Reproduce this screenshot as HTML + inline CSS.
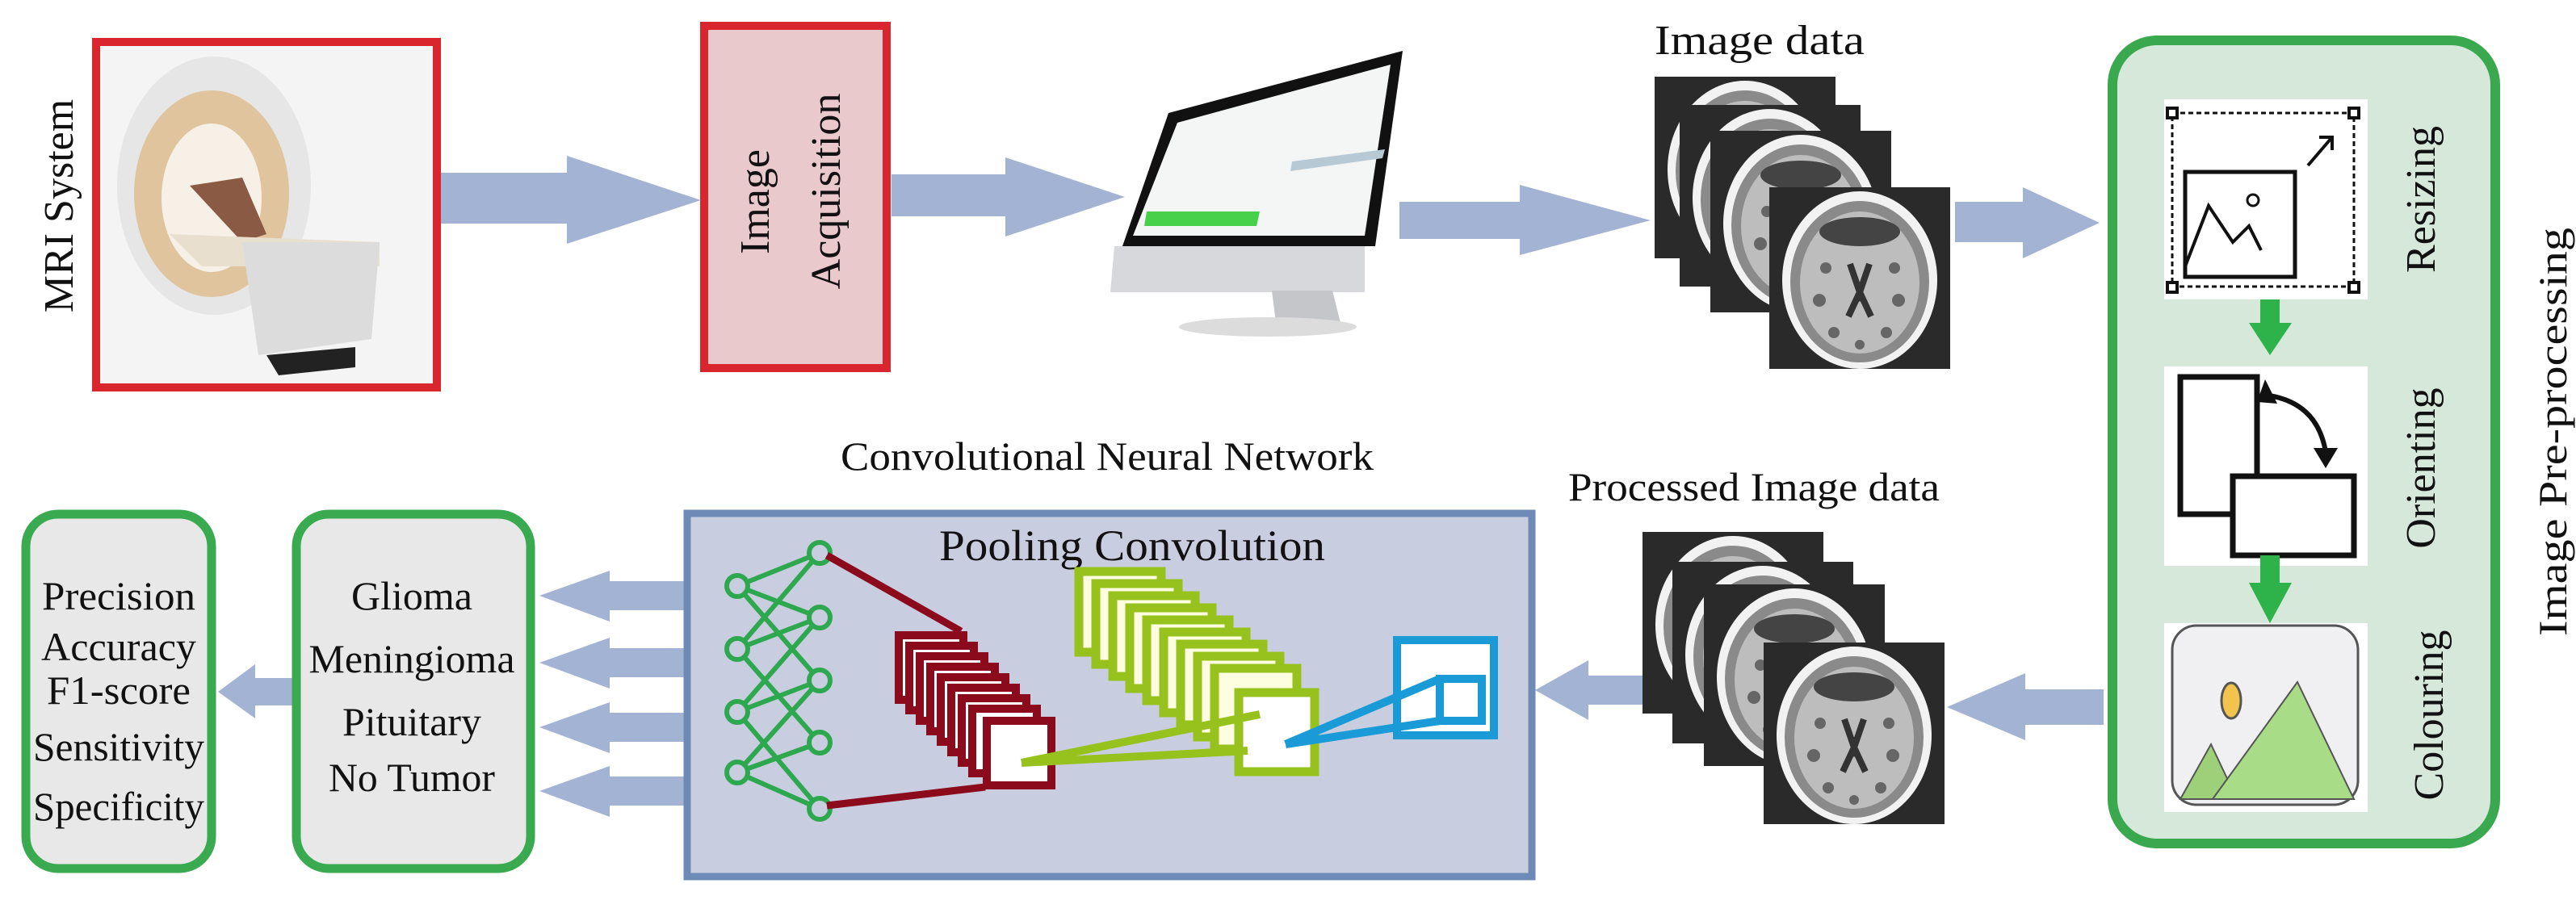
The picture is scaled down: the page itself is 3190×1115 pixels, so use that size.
<!DOCTYPE html>
<html><head><meta charset="utf-8"><style>html,body{margin:0;padding:0;background:#fff}svg{display:block}svg text{font-family:"Liberation Serif","Times New Roman",serif}</style></head>
<body>
<svg width="3190" height="1115" viewBox="0 0 3190 1115" xmlns="http://www.w3.org/2000/svg">
<defs>
<g id="brain">
  <rect x="0" y="0" width="224" height="225" fill="#2a2a2a"/>
  <ellipse cx="112" cy="115" rx="96" ry="110" fill="#f2f2f2"/>
  <ellipse cx="112" cy="117" rx="86" ry="100" fill="#8a8a8a"/>
  <ellipse cx="112" cy="118" rx="74" ry="88" fill="#bdbdbd"/>
  <ellipse cx="112" cy="55" rx="50" ry="18" fill="#444"/>
  <path d="M100 95 L112 130 L124 95 M112 130 L98 160 M112 130 L126 160" stroke="#333" stroke-width="8" fill="none"/>
  <g fill="#666"><circle cx="70" cy="100" r="7"/><circle cx="155" cy="100" r="7"/><circle cx="62" cy="140" r="8"/><circle cx="160" cy="140" r="8"/><circle cx="80" cy="180" r="7"/><circle cx="145" cy="180" r="7"/><circle cx="112" cy="195" r="6"/></g>
</g>
</defs>

<!-- MRI box -->
<rect x="119" y="52" width="422" height="428" fill="#f4f4f4" stroke="#d9262e" stroke-width="10"/>
<ellipse cx="265" cy="230" rx="120" ry="160" fill="#e6e6e6"/>
<ellipse cx="262" cy="240" rx="96" ry="128" fill="#e0c49e"/>
<ellipse cx="262" cy="245" rx="62" ry="92" fill="#f6f0e6"/>
<path d="M235 230 L300 220 L330 290 L300 300 Z" fill="#8a5a44"/>
<path d="M210 290 L470 300 L470 330 L250 330 Z" fill="#e8dfcf"/>
<path d="M300 300 L470 300 L460 420 L320 440 Z" fill="#dcdcdc"/>
<path d="M330 440 L440 430 L440 455 L345 465 Z" fill="#222"/>
<text transform="translate(90,255) rotate(-90)" font-size="52" text-anchor="middle" fill="#111">MRI System</text>

<!-- Image Acquisition -->
<rect x="872" y="32" width="226" height="424" fill="#e9c9cb" stroke="#d9262e" stroke-width="10"/>
<text transform="translate(952,250) rotate(-90)" font-size="52" text-anchor="middle" fill="#111">Image</text>
<text transform="translate(1040,237) rotate(-90)" font-size="52" text-anchor="middle" fill="#111">Acquisition</text>

<!-- blue arrows -->
<g fill="#a3b3d4">
<polygon points="546,214 702,214 702,193 868,248 702,302 702,277 546,277"/>
<polygon points="1104,216 1245,216 1245,195 1393,244 1245,293 1245,268 1104,268"/>
<polygon points="1733,250 1882,250 1882,229 2044,273 1882,316 1882,296 1733,296"/>
<polygon points="2421,250 2505,250 2505,232 2600,276 2505,320 2505,300 2421,300"/>
<polygon points="2605,854 2508,854 2508,834 2411,876 2508,917 2508,898 2605,898"/>
<polygon points="2034,837 1967,837 1967,818 1901,855 1967,892 1967,873 2034,873"/>
<polygon points="847,720 755,720 755,707 668,738 755,770 755,756 847,756"/>
<polygon points="847,803 755,803 755,790 668,821 755,853 755,839 847,839"/>
<polygon points="847,883 755,883 755,870 668,901 755,933 755,919 847,919"/>
<polygon points="847,962 755,962 755,949 668,980 755,1012 755,998 847,998"/>
<polygon points="362,840 316,840 316,823 270,857 316,890 316,874 362,874"/>
</g>

<!-- Monitor -->
<polygon points="1380,305 1690,305 1690,362 1375,362" fill="#d6d8dc"/>
<polygon points="1575,360 1650,360 1660,400 1580,400" fill="#c4c6ca"/>
<ellipse cx="1570" cy="405" rx="110" ry="12" fill="#dcdcdc"/>
<polygon points="1447,140 1737,63 1703,305 1390,305" fill="#111"/>
<polygon points="1458,152 1722,80 1690,292 1403,292" fill="#f4f6f6"/>
<polygon points="1420,262 1560,262 1556,280 1417,280" fill="#47d04a"/>
<polygon points="1600,200 1715,185 1712,196 1598,212" fill="#b8c9d6"/>

<!-- Image data -->
<text x="2049" y="67" font-size="52" textLength="260" lengthAdjust="spacingAndGlyphs" fill="#111">Image data</text>
<use href="#brain" transform="translate(2049,95)"/>
<use href="#brain" transform="translate(2080,130)"/>
<use href="#brain" transform="translate(2118,162)"/>
<use href="#brain" transform="translate(2191,232)"/>

<!-- Pre-processing panel -->
<rect x="2616" y="50" width="474" height="995" rx="55" fill="#d5e8da" stroke="#39a84f" stroke-width="12"/>
<rect x="2680" y="123" width="252" height="248" fill="#fff"/>
<rect x="2690" y="140" width="225" height="215" fill="none" stroke="#111" stroke-width="3" stroke-dasharray="6,4"/>
<g fill="#fff" stroke="#111" stroke-width="4"><rect x="2684" y="134" width="12" height="12"/><rect x="2909" y="134" width="12" height="12"/><rect x="2684" y="350" width="12" height="12"/><rect x="2909" y="350" width="12" height="12"/></g>
<rect x="2706" y="213" width="136" height="130" fill="none" stroke="#111" stroke-width="5"/>
<polyline points="2706,330 2735,255 2765,300 2785,280 2800,310" fill="none" stroke="#111" stroke-width="4"/>
<circle cx="2790" cy="248" r="7" fill="none" stroke="#111" stroke-width="3"/>
<path d="M2858 205 L2888 170 M2872 170 L2888 170 L2888 186" stroke="#111" stroke-width="4" fill="none"/>
<text transform="translate(3015,247) rotate(-90)" font-size="52" text-anchor="middle" fill="#111">Resizing</text>

<rect x="2680" y="454" width="252" height="247" fill="#fff"/>
<rect x="2700" y="467" width="95" height="170" fill="none" stroke="#111" stroke-width="7"/>
<rect x="2765" y="590" width="150" height="98" fill="#fff" stroke="#111" stroke-width="7"/>
<path d="M2810 490 Q2870 500 2880 560" stroke="#111" stroke-width="6" fill="none"/>
<polygon points="2865,555 2895,555 2880,580" fill="#111"/>
<polygon points="2805,470 2820,500 2795,498" fill="#111"/>
<text transform="translate(3015,580) rotate(-90)" font-size="52" text-anchor="middle" fill="#111">Orienting</text>

<rect x="2680" y="772" width="252" height="234" fill="#fff"/>
<rect x="2690" y="775" width="230" height="222" rx="30" fill="#f0f0f3" stroke="#555" stroke-width="3"/>
<ellipse cx="2763" cy="868" rx="12" ry="22" fill="#f2c44e" stroke="#555" stroke-width="3"/>
<polygon points="2700,990 2738,922 2770,990" fill="#9ed07a" stroke="#555" stroke-width="2"/>
<polygon points="2740,990 2845,845 2915,990" fill="#a8dc86" stroke="#555" stroke-width="2"/>
<text transform="translate(3025,886) rotate(-90)" font-size="52" text-anchor="middle" fill="#111">Colouring</text>

<g fill="#2db34a">
<rect x="2799" y="371" width="24" height="35"/><polygon points="2785,400 2838,400 2811,440"/>
<rect x="2799" y="688" width="24" height="40"/><polygon points="2785,722 2838,722 2811,772"/>
</g>
<text transform="translate(3178,535) rotate(-90)" font-size="50" text-anchor="middle" textLength="506" lengthAdjust="spacingAndGlyphs" fill="#111">Image Pre-processing</text>

<!-- Processed image data -->
<text x="1942" y="620" font-size="50" textLength="460" lengthAdjust="spacingAndGlyphs" fill="#111">Processed Image data</text>
<use href="#brain" transform="translate(2034,659)"/>
<use href="#brain" transform="translate(2071,696)"/>
<use href="#brain" transform="translate(2110,724)"/>
<use href="#brain" transform="translate(2184,796)"/>

<!-- CNN -->
<text x="1041" y="582" font-size="50" textLength="660" lengthAdjust="spacingAndGlyphs" fill="#111">Convolutional Neural Network</text>
<rect x="851" y="636" width="1046" height="450" fill="#c9cde0" stroke="#6e8bb8" stroke-width="9"/>
<text x="1163" y="694" font-size="54" textLength="478" lengthAdjust="spacingAndGlyphs" fill="#111">Pooling Convolution</text>

<g stroke="#2ea84f" stroke-width="6" fill="none">
<path d="M913 726 L1015 685 M913 726 L1015 765 M913 726 L1015 843 M913 804 L1015 685 M913 804 L1015 765 M913 804 L1015 920 M913 882 L1015 765 M913 882 L1015 843 M913 882 L1015 1002 M913 957 L1015 843 M913 957 L1015 920 M913 957 L1015 1002"/>
</g>
<g stroke="#2ea84f" stroke-width="6" fill="#c9cde0">
<circle cx="913" cy="726" r="13"/><circle cx="913" cy="804" r="13"/><circle cx="913" cy="882" r="13"/><circle cx="913" cy="957" r="13"/>
<circle cx="1015" cy="685" r="13"/><circle cx="1015" cy="765" r="13"/><circle cx="1015" cy="843" r="13"/><circle cx="1015" cy="920" r="13"/><circle cx="1015" cy="1002" r="13"/>
</g>
<g stroke="#8b0a1c" stroke-width="9" fill="none"><path d="M1024 688 L1190 782 M1024 998 L1220 975"/></g>
<g stroke="#8b0a1c" stroke-width="10" fill="#fff">
<rect x="1113" y="787" width="80" height="80"/><rect x="1126" y="800" width="80" height="80"/><rect x="1139" y="813" width="80" height="80"/><rect x="1152" y="826" width="80" height="80"/><rect x="1165" y="839" width="80" height="80"/><rect x="1178" y="852" width="80" height="80"/><rect x="1191" y="865" width="80" height="80"/><rect x="1204" y="878" width="80" height="80"/><rect x="1222" y="893" width="80" height="80"/>
</g>
<g stroke="#97c21d" stroke-width="11" fill="#fdfde0">
<rect x="1336" y="708" width="102" height="100"/><rect x="1357" y="723" width="102" height="100"/><rect x="1378" y="738" width="102" height="100"/><rect x="1399" y="753" width="102" height="100"/><rect x="1420" y="768" width="102" height="100"/><rect x="1441" y="783" width="102" height="100"/><rect x="1462" y="798" width="102" height="100"/><rect x="1483" y="813" width="102" height="100"/><rect x="1504" y="828" width="102" height="100"/><rect x="1534" y="858" width="94" height="98" fill="#fff"/>
</g>
<g stroke="#97c21d" stroke-width="10"><path d="M1265 945 L1560 885 M1265 945 L1545 930"/></g>
<g fill="none" stroke="#1a9ad6" stroke-width="10">
<rect x="1730" y="793" width="120" height="118" fill="#fff"/>
<rect x="1783" y="841" width="52" height="52" fill="#fff"/>
<path d="M1592 922 L1783 841 M1592 922 L1783 893"/>
</g>

<!-- left boxes -->
<rect x="32" y="637" width="230" height="439" rx="40" fill="#e8e8e8" stroke="#3aaa50" stroke-width="11"/>
<rect x="367" y="637" width="290" height="439" rx="40" fill="#e8e8e8" stroke="#3aaa50" stroke-width="11"/>
<g font-size="50" text-anchor="middle" fill="#111">
<text x="147" y="755" textLength="190" lengthAdjust="spacingAndGlyphs">Precision</text>
<text x="147" y="818" textLength="192" lengthAdjust="spacingAndGlyphs">Accuracy</text>
<text x="147" y="872" textLength="178" lengthAdjust="spacingAndGlyphs">F1-score</text>
<text x="147" y="942" textLength="212" lengthAdjust="spacingAndGlyphs">Sensitivity</text>
<text x="147" y="1016" textLength="212" lengthAdjust="spacingAndGlyphs">Specificity</text>
<text x="510" y="755" textLength="150" lengthAdjust="spacingAndGlyphs">Glioma</text>
<text x="510" y="833" textLength="255" lengthAdjust="spacingAndGlyphs">Meningioma</text>
<text x="510" y="911" textLength="172" lengthAdjust="spacingAndGlyphs">Pituitary</text>
<text x="510" y="980" textLength="206" lengthAdjust="spacingAndGlyphs">No Tumor</text>
</g>
</svg>
</body></html>
